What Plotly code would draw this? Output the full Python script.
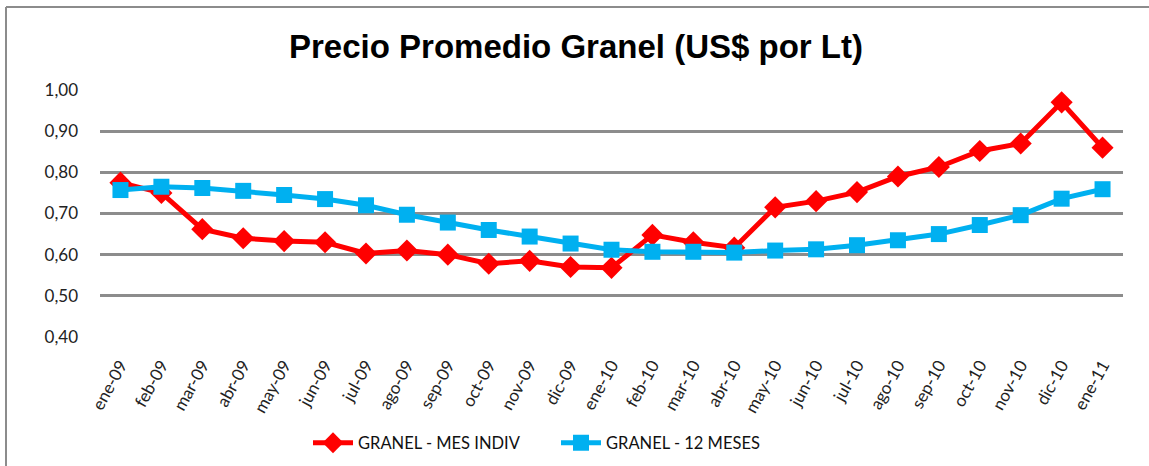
import plotly.graph_objects as go

categories = ["ene-09","feb-09","mar-09","abr-09","may-09","jun-09","jul-09","ago-09","sep-09",
              "oct-09","nov-09","dic-09","ene-10","feb-10","mar-10","abr-10","may-10","jun-10",
              "jul-10","ago-10","sep-10","oct-10","nov-10","dic-10","ene-11"]
mes_indiv = [0.775,0.75,0.662,0.64,0.633,0.63,0.603,0.61,0.60,0.578,0.585,0.57,0.568,
             0.648,0.63,0.617,0.715,0.73,0.752,0.79,0.813,0.852,0.870,0.970,0.860]
doce_meses = [0.757,0.765,0.762,0.755,0.745,0.735,0.72,0.697,0.678,0.66,0.644,0.627,0.612,
              0.607,0.607,0.605,0.61,0.613,0.623,0.635,0.65,0.672,0.696,0.736,0.759]
y_ticks = [0.4,0.5,0.6,0.7,0.8,0.9,1.0]
y_ticklabels = ["0,40","0,50","0,60","0,70","0,80","0,90","1,00"]

fig = go.Figure()
fig.add_trace(go.Scatter(x=categories, y=mes_indiv, name="GRANEL - MES INDIV",
                         mode="lines+markers",
                         line=dict(color="#ff0000", width=5),
                         marker=dict(symbol="diamond", size=17, color="#ff0000")))
fig.add_trace(go.Scatter(x=categories, y=doce_meses, name="GRANEL - 12 MESES",
                         mode="lines+markers",
                         line=dict(color="#00b0f0", width=5),
                         marker=dict(symbol="square", size=16, color="#00b0f0")))

W, H = 1149, 466
ml, mr, mt, mb = 100, 26, 90, 129
pw, ph = W - ml - mr, H - mt - mb

# top and left chart border
fig.add_shape(type="line", xref="paper", yref="paper",
              x0=(6 - ml) / pw, x1=(1149 - ml) / pw,
              y0=(H - 7 - mb) / ph, y1=(H - 7 - mb) / ph,
              line=dict(color="#8c8c8c", width=2), layer="below")
fig.add_shape(type="line", xref="paper", yref="paper",
              x0=(6 - ml) / pw, x1=(6 - ml) / pw,
              y0=(H - 7 - mb) / ph, y1=(H - 470 - mb) / ph,
              line=dict(color="#8c8c8c", width=2), layer="below")

fig.update_layout(
    width=W, height=H,
    margin=dict(l=ml, r=mr, t=mt, b=mb, autoexpand=False),
    paper_bgcolor="white", plot_bgcolor="white",
    title=dict(text="<b>Precio Promedio Granel (US$ por Lt)</b>",
               x=576 / W, xref="container", xanchor="center", y=(H - 46) / H, yref="container", yanchor="middle",
               font=dict(family="Liberation Sans Narrow, Arial Narrow, Liberation Sans", size=33, color="black")),
    font=dict(family="Lato, Open Sans, sans-serif", size=16, color="#222222"),
    showlegend=True,
    legend=dict(orientation="h", xref="container", x=308 / W, xanchor="left",
                yref="container", y=(H - 443) / H, yanchor="middle",
                font=dict(size=16.5, family="Lato, sans-serif", color="#111111"),
                itemwidth=40, entrywidth=193, entrywidthmode="pixels",
                bgcolor="rgba(0,0,0,0)"),
)
fig.update_xaxes(type="category", showgrid=False, showline=False, zeroline=False, automargin=False,
                 tickangle=-61, ticks="", ticklabelstandoff=14,
                 tickfont=dict(size=17, family="Lato, sans-serif"),
                 range=[-0.5, len(categories) - 0.5])
fig.update_yaxes(range=[0.4, 1.0], tickvals=y_ticks, ticktext=y_ticklabels, automargin=False,
                 showgrid=True, gridcolor="#8c8c8c", gridwidth=2.5, zeroline=False,
                 showline=False, ticks="", ticklen=0, ticklabelstandoff=21,
                 tickfont=dict(size=17, family="Lato, sans-serif"))
fig.write_html("out.html", config={"displayModeBar": False},
               post_script="document.body.style.margin='0';document.body.style.overflow='hidden';")
